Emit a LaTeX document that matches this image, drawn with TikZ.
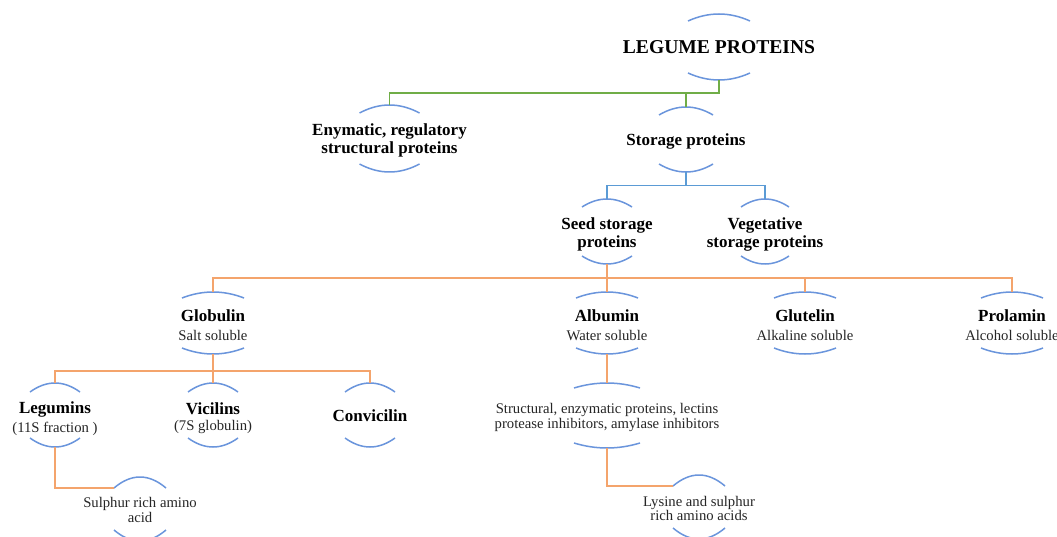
\documentclass[tikz,border=0pt]{standalone}
\usepackage{fontspec}
\setmainfont{Liberation Serif}
\definecolor{arcblue}{HTML}{6A95DC}
\definecolor{lgreen}{HTML}{70AD47}
\definecolor{lblue}{HTML}{5B9BD5}
\definecolor{lorange}{HTML}{F4A46C}
\definecolor{txtgray}{HTML}{262626}
\newcommand\bigb{\fontsize{19.6}{22}\selectfont\bfseries}
\newcommand\midb{\fontsize{17}{18}\selectfont\bfseries}
\newcommand\smr{\fontsize{14.7}{15}\selectfont\color{txtgray}}
% [text shift]{name}{x}{y}{h}{w}{s}{text}
\newcommand\cnode[8][0]{%
  \node[txt] (#2) at (#3,{#4+#1}) {#8};
  \coordinate (#2-t) at (#3,{#4-#5});
  \coordinate (#2-b) at (#3,{#4+#5});
  \coordinate (#2-l) at ({#3-#6},{#4-#5+#7});
  \draw[arcst] (#2-l) .. controls ({#3-#6/3},{#4-#5-#7/3}) and ({#3+#6/3},{#4-#5-#7/3}) .. ({#3+#6},{#4-#5+#7});
  \draw[arcst] ({#3-#6},{#4+#5-#7}) .. controls ({#3-#6/3},{#4+#5+#7/3}) and ({#3+#6/3},{#4+#5+#7/3}) .. ({#3+#6},{#4+#5-#7});
}
\tikzset{
  txt/.style={align=center, inner sep=0pt, text=black},
  arcst/.style={draw=arcblue, line width=1.5pt},
  gline/.style={draw=lgreen, line width=1.3pt},
  bline/.style={draw=lblue, line width=1.3pt},
  oline/.style={draw=lorange, line width=1.3pt}
}
\begin{document}
\begin{tikzpicture}[x=1pt,y=-1pt]
\useasboundingbox (0,0) rectangle (1057,537);
\fill[white] (0,0) rectangle (1057,537);

\cnode{root}{719}{47}{33}{31}{7}{\bigb LEGUME PROTEINS}
\cnode[2]{enz}{389.5}{138.5}{33.5}{30}{8}{\midb Enymatic, regulatory\\[1pt]\midb structural proteins}
\cnode[2]{stor}{686}{139.5}{32.5}{27}{8}{\midb Storage proteins}
\cnode[3]{seed}{607}{231.5}{32.5}{25}{8}{\midb Seed storage\\[2pt]\midb proteins}
\cnode[3]{veg}{765}{231.5}{32.5}{24}{8}{\midb Vegetative\\[2pt]\midb storage proteins}
\cnode[2]{glob}{213}{323}{31}{31}{6}{\midb Globulin\\[7pt]\smr Salt soluble}
\cnode[2]{alb}{607}{323}{31}{31}{6}{\midb Albumin\\[7pt]\smr Water soluble}
\cnode[2]{glut}{805}{323}{31}{31}{6}{\midb Glutelin\\[7pt]\smr Alkaline soluble}
\cnode[2]{prol}{1012}{323}{31}{31}{6}{\midb Prolamin\\[7pt]\smr Alcohol soluble}
\cnode[4]{leg}{55}{415}{32}{25}{9}{\midb Legumins\\[4pt]\smr (11S fraction )}
\cnode[3]{vic}{213}{415}{32}{25}{9}{\midb Vicilins\\[4pt]\smr (7S globulin)}
\cnode[1]{conv}{370}{415}{32}{25}{9}{\midb Convicilin}
\cnode[2]{struct}{607}{415.5}{32.5}{33}{5}{\smr Structural, enzymatic proteins, lectins\\\smr protease inhibitors, amylase inhibitors}
\cnode[1]{sulph}{140}{509}{32}{26}{11}{\smr Sulphur rich\ amino\\\smr acid}
\cnode[1.5]{lys}{699}{507}{32}{26}{11}{\smr Lysine and sulphur\\[-1pt]\smr rich amino acids}

\coordinate (j1) at (root-b |- 0,93);
\coordinate (j2) at (stor-b |- 0,185.5);
\coordinate (j3) at (seed-b |- 0,278);
\coordinate (j4) at (glob-b |- 0,371);

\draw[gline] (root-b) -- (j1) -| (enz-t);
\draw[gline] (j1) -| (stor-t);
\draw[bline] (stor-b) -- (j2) -| (seed-t);
\draw[bline] (j2) -| (veg-t);
\draw[oline] (seed-b) -- (j3) -| (glob-t);
\draw[oline] (j3) -| (alb-t);
\draw[oline] (j3) -| (glut-t);
\draw[oline] (j3) -| (prol-t);
\draw[oline] (glob-b) -- (j4) -| (leg-t);
\draw[oline] (j4) -| (vic-t);
\draw[oline] (j4) -| (conv-t);
\draw[oline] (alb-b) -- (struct-t);
\draw[oline] (leg-b) |- (sulph-l);
\draw[oline] (struct-b) |- (lys-l);
\end{tikzpicture}
\end{document}
